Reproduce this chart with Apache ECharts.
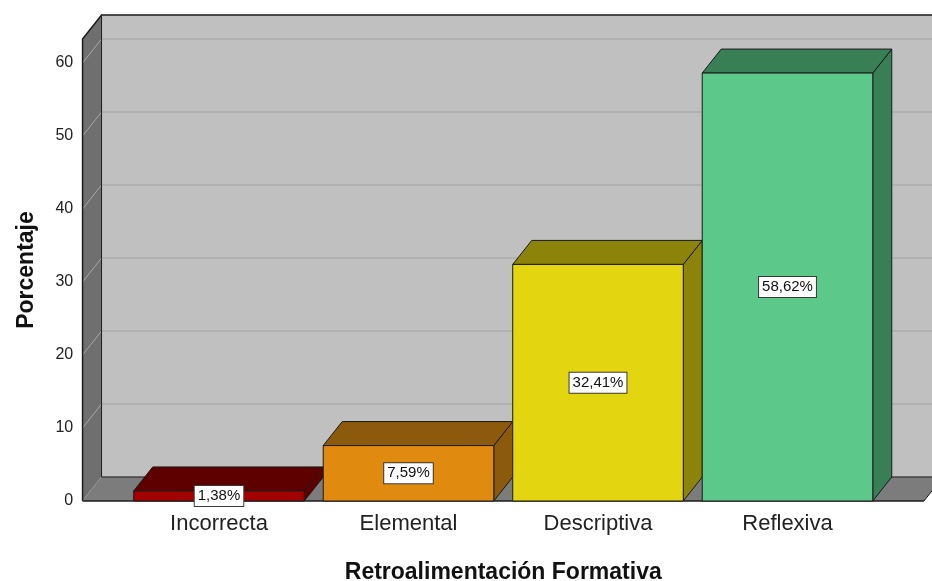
<!DOCTYPE html>
<html>
<head>
<meta charset="utf-8">
<title>Retroalimentación Formativa</title>
<script src="https://cdn.jsdelivr.net/npm/echarts/dist/echarts.min.js"></script>
<style>
  html, body { margin: 0; padding: 0; background: #ffffff; }
  #chart { width: 932px; height: 581px; }
</style>
</head>
<body>
<div id="chart"></div>
<script>
// Data
const categories = ['Incorrecta', 'Elemental', 'Descriptiva', 'Reflexiva'];
const percentages = [1.38, 7.59, 32.41, 58.62];
const yTicks = [0, 10, 20, 30, 40, 50, 60];

// Bar colours: front face and the darker top/side faces
const frontColors = ['#A30000', '#E08B10', '#E3D611', '#5CC98B'];
const shadeColors = ['#5E0000', '#8C5A0C', '#8C840A', '#387F56'];

// 3D look: depth offset of the box, wall height above the top tick
const DX = 19, DY = -24;
const WALL_TOP = 63.3;
const SIDE_EXT = 0.22;   // floor/wall overhang beyond the outer bands, in bands
const FONT = '"Liberation Sans", Arial, sans-serif';

function fmt(v) {
  return v.toFixed(2).replace('.', ',') + '%';
}

// Back wall, left wall, floor and the grid lines drawn on them
function renderWalls(params, api) {
  const cs = params.coordSys;
  const band = api.size([1, 0])[0];
  const lf = cs.x - band * SIDE_EXT;
  const rf = cs.x + cs.width + band * SIDE_EXT;
  const lb = lf + DX, rb = rf + DX;
  const yBase = api.coord([0, 0])[1];
  const yTop = api.coord([0, WALL_TOP])[1];
  const edge = { stroke: '#1c1c1c', lineWidth: 1 };
  const kids = [];

  // back wall
  kids.push({ type: 'polygon', shape: { points: [[lb, yTop + DY], [rb, yTop + DY], [rb, yBase + DY], [lb, yBase + DY]] },
    style: { fill: '#C0C0C0' } });
  // horizontal grid lines on the back wall
  yTicks.forEach(function (t) {
    const y = api.coord([0, t])[1] + DY;
    kids.push({ type: 'line', shape: { x1: lb, y1: y, x2: rb, y2: y }, style: { stroke: '#ADADAD', lineWidth: 1.5 } });
  });
  // left wall
  kids.push({ type: 'polygon', shape: { points: [[lf, yTop], [lb, yTop + DY], [lb, yBase + DY], [lf, yBase]] },
    style: { fill: '#6F6F6F' } });
  // diagonal grid lines on the left wall
  yTicks.forEach(function (t) {
    const y = api.coord([0, t])[1];
    kids.push({ type: 'line', shape: { x1: lf, y1: y, x2: lb, y2: y + DY }, style: { stroke: '#A8A8A8', lineWidth: 1 } });
  });
  // floor
  kids.push({ type: 'polygon', shape: { points: [[lf, yBase], [lb, yBase + DY], [rb, yBase + DY], [rf, yBase]] },
    style: { fill: '#7C7C7C' } });
  // outlines
  kids.push({ type: 'polyline', shape: { points: [[lf, yBase], [lf, yTop], [lb, yTop + DY], [rb, yTop + DY]] },
    style: Object.assign({ fill: null }, edge, { lineWidth: 1.5 }) });
  kids.push({ type: 'line', shape: { x1: lb, y1: yTop + DY, x2: lb, y2: yBase + DY }, style: edge });
  kids.push({ type: 'line', shape: { x1: lb, y1: yBase + DY, x2: rb, y2: yBase + DY }, style: edge });
  kids.push({ type: 'line', shape: { x1: lf, y1: yBase, x2: rf, y2: yBase }, style: Object.assign({}, edge, { lineWidth: 1.5 }) });
  kids.push({ type: 'line', shape: { x1: rf, y1: yBase, x2: rb, y2: yBase + DY }, style: edge });
  return { type: 'group', children: kids };
}

// One 3D box per category with its value label on the front face
function renderBar(params, api) {
  const i = api.value(0), v = api.value(1);
  const base = api.coord([i, 0]);
  const top = api.coord([i, v]);
  const w = api.size([1, 0])[0] * 0.9;
  const x0 = base[0] - w / 2, x1 = base[0] + w / 2;
  const yb = base[1], yt = top[1];
  const edge = { stroke: '#1a1a1a', lineWidth: 1 };
  const shade = shadeColors[params.dataIndex];
  const front = frontColors[params.dataIndex];
  return {
    type: 'group',
    children: [
      { type: 'polygon', shape: { points: [[x1, yt], [x1 + DX, yt + DY], [x1 + DX, yb + DY], [x1, yb]] },
        style: Object.assign({ fill: shade }, edge) },
      { type: 'polygon', shape: { points: [[x0, yt], [x0 + DX, yt + DY], [x1 + DX, yt + DY], [x1, yt]] },
        style: Object.assign({ fill: shade }, edge) },
      { type: 'rect', shape: { x: x0, y: yt, width: x1 - x0, height: yb - yt },
        style: Object.assign({ fill: front }, edge) },
      { type: 'text', x: base[0], y: (yt + yb) / 2,
        style: { text: fmt(v), font: '15px ' + FONT, fill: '#111111', align: 'center', verticalAlign: 'middle',
          backgroundColor: '#ffffff', borderColor: '#3a3a3a', borderWidth: 1, padding: [3, 3, 2, 3] } }
    ]
  };
}

const chart = echarts.init(document.getElementById('chart'), null, { renderer: 'canvas' });
chart.setOption({
  backgroundColor: '#ffffff',
  animation: false,
  grid: { left: 124.25, right: 49.75, top: 63, bottom: 80, containLabel: false, outerBoundsMode: 'none' },
  xAxis: {
    type: 'category',
    data: categories,
    boundaryGap: true,
    axisLine: { show: false },
    axisTick: { show: false },
    axisLabel: { fontSize: 22, color: '#222222', fontFamily: FONT, margin: 12 },
    name: 'Retroalimentación Formativa',
    nameLocation: 'middle',
    nameGap: 60,
    nameTextStyle: { fontSize: 23, fontWeight: 'bold', color: '#111111', fontFamily: FONT }
  },
  yAxis: {
    type: 'value',
    min: 0, max: 60, interval: 10,
    axisLine: { show: false },
    axisTick: { show: false },
    splitLine: { show: false },
    axisLabel: { fontSize: 16, color: '#222222', fontFamily: FONT, margin: 51 },
    name: 'Porcentaje',
    nameLocation: 'middle',
    nameGap: 86,
    nameTextStyle: { fontSize: 23, fontWeight: 'bold', color: '#111111', fontFamily: FONT, padding: [0, 0, 0, 24] }
  },
  series: [
    { type: 'custom', z: 1, silent: true, renderItem: renderWalls, data: [[0, 0]], encode: { x: 0, y: 1 } },
    { type: 'custom', z: 2, renderItem: renderBar,
      data: percentages.map(function (v, i) { return [i, v]; }), encode: { x: 0, y: 1 } }
  ]
});
</script>
</body>
</html>
